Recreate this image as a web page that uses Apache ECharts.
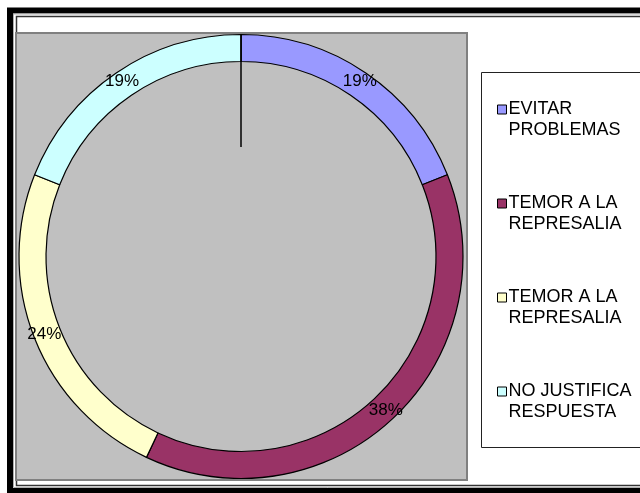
<!DOCTYPE html>
<html>
<head>
<meta charset="utf-8">
<script src="https://cdn.jsdelivr.net/npm/echarts@6/dist/echarts.min.js"></script>
<style>
  html, body { margin: 0; padding: 0; background: #ffffff; }
  #chart { width: 640px; height: 493px; }
</style>
</head>
<body>
<div id="chart"></div>
<script>
// Survey answers, share of respondents (%)
const categories = ['EVITAR\nPROBLEMAS', 'TEMOR A LA\nREPRESALIA', 'TEMOR A LA\nREPRESALIA', 'NO JUSTIFICA\nRESPUESTA'];
const shares = [19, 38, 24, 19];
const sliceColors = ['#9999FF', '#993366', '#FFFFCC', '#CCFFFF'];

const FONT = "'Liberation Sans', Arial, sans-serif";
const CX = 241, CY = 256.5, R_IN = 195, R_OUT = 222;

// Unique keys per slice so the repeated answer text keeps two legend entries
const keys = categories.map((_, i) => 'slice' + i);

const chart = echarts.init(document.getElementById('chart'), null, { renderer: 'canvas' });

chart.setOption({
  backgroundColor: '#ffffff',
  animation: false,
  color: sliceColors,
  graphic: [
    // chart frame
    { type: 'rect', z: -10, shape: { x: 10, y: 10.5, width: 660, height: 480.5 },
      style: { fill: null, stroke: '#000', lineWidth: 6 } },
    { type: 'rect', z: -10, shape: { x: 13.5, y: 14, width: 660, height: 473.5 },
      style: { fill: null, stroke: '#b0b0b0', lineWidth: 1 } },
    { type: 'rect', z: -10, shape: { x: 16.5, y: 16.5, width: 660, height: 469 },
      style: { fill: null, stroke: '#333', lineWidth: 1.5 } },
    // plot area
    { type: 'rect', z: -5, shape: { x: 16, y: 33, width: 451, height: 447 },
      style: { fill: '#C0C0C0', stroke: '#808080', lineWidth: 2 } },
    // legend box
    { type: 'rect', z: -5, shape: { x: 481.5, y: 72.5, width: 200, height: 375 },
      style: { fill: '#ffffff', stroke: '#222', lineWidth: 1 } },
    // radial rule from the ring top toward the centre
    { type: 'line', z: 10, shape: { x1: CX, y1: CY - R_OUT, x2: CX, y2: 147 },
      style: { stroke: '#000', lineWidth: 1.5 } }
  ],
  legend: {
    orient: 'vertical',
    left: 492,
    top: 73,
    itemWidth: 9,
    itemHeight: 9,
    itemGap: 31,
    icon: 'rect',
    data: keys,
    selectedMode: false,
    itemStyle: { borderColor: '#000', borderWidth: 1 },
    formatter: function (name) {
      return '\n' + categories[keys.indexOf(name)];
    },
    textStyle: {
      fontFamily: FONT,
      fontSize: 18,
      lineHeight: 21,
      color: '#000',
      padding: [0, 0, 0, -3]
    }
  },
  series: [{
    type: 'pie',
    center: [CX, CY],
    radius: [R_IN, R_OUT],
    startAngle: 90,
    clockwise: true,
    avoidLabelOverlap: false,
    itemStyle: { borderColor: '#000', borderWidth: 1.2 },
    emphasis: { disabled: true },
    label: {
      show: true,
      position: 'inside',
      formatter: '{d}%',
      fontFamily: FONT,
      fontSize: 17,
      color: '#000'
    },
    labelLine: { show: false },
    data: keys.map((k, i) => ({ name: k, value: shares[i] }))
  }]
});
</script>
</body>
</html>
